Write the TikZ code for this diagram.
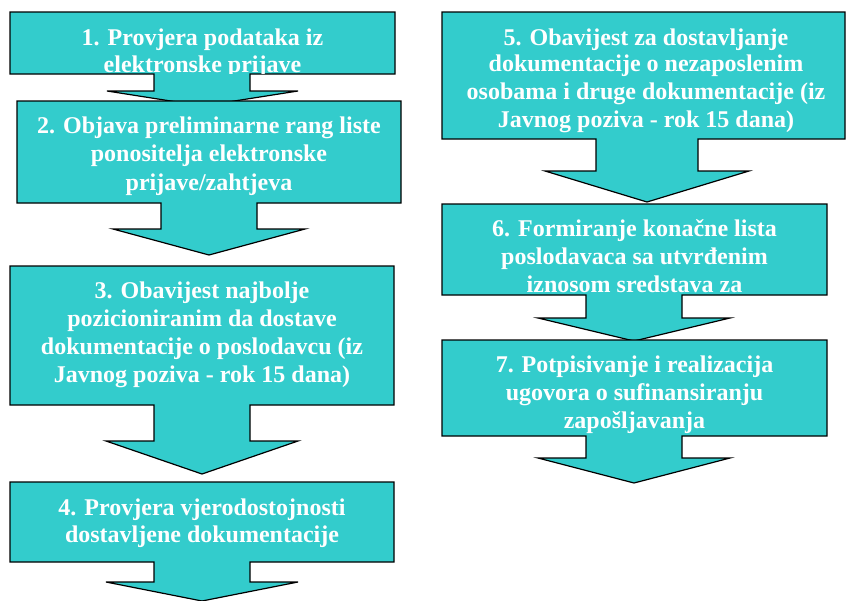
\documentclass[tikz,border=0pt]{standalone}
\usepackage{fontspec}
\setmainfont{Liberation Serif}
\definecolor{teal1}{HTML}{33CCCC}
\tikzset{
  callout/.style={fill=teal1, draw=black, line width=1.2pt, line join=miter},
  lbl/.style={anchor=base, inner sep=0pt, text=white, font=\fontsize{24}{28}\selectfont\bfseries}
}
\begin{document}
\begin{tikzpicture}[x=1pt,y=-1pt]
\useasboundingbox (0,0) rectangle (846,600);
\clip (0,0) rectangle (846,600);
% ---- 1
\draw[callout] (10,12) -- (395,12) -- (395,74) -- (250,74) -- (250,91) -- (298,91) -- (202.5,106) -- (107,91) -- (154,91) -- (154,74) -- (10,74) -- cycle;
\begin{scope}
\clip (10,12) rectangle (395,73.4);
\node[lbl] (t1a) at (202.5,45) {1. Provjera podataka iz};
\node[lbl] (t1b) at (202.5,72) {elektronske prijave};
\end{scope}
% ---- 2
\draw[callout] (17,101) -- (401,101) -- (401,203) -- (257,203) -- (257,229) -- (305,229) -- (209,255) -- (113,229) -- (161,229) -- (161,203) -- (17,203) -- cycle;
\node[lbl] (t2a) at (209,133) {2. Objava preliminarne rang liste};
\node[lbl] (t2b) at (209,161.5) {ponositelja elektronske};
\node[lbl] (t2c) at (209,190) {prijave/zahtjeva};
% ---- 3
\draw[callout] (10,266) -- (394,266) -- (394,405) -- (250,405) -- (250,441) -- (298,441) -- (202,474) -- (106,441) -- (154,441) -- (154,405) -- (10,405) -- cycle;
\node[lbl] (t3a) at (202,298.5) {3. Obavijest najbolje};
\node[lbl] (t3b) at (202,326.5) {pozicioniranim da dostave};
\node[lbl] (t3c) at (202,354.3) {dokumentacije o poslodavcu (iz};
\node[lbl] (t3d) at (202,382) {Javnog poziva - rok 15 dana)};
% ---- 4
\draw[callout] (10,482) -- (394,482) -- (394,562) -- (250,562) -- (250,582) -- (298,582) -- (202,601) -- (106,582) -- (154,582) -- (154,562) -- (10,562) -- cycle;
\node[lbl] (t4a) at (202,515) {4. Provjera vjerodostojnosti};
\node[lbl] (t4b) at (202,542.7) {dostavljene dokumentacije};
% ---- 5
\draw[callout] (442,12) -- (845,12) -- (845,139) -- (698,139) -- (698,171) -- (749,171) -- (647,202) -- (545,171) -- (596,171) -- (596,139) -- (442,139) -- cycle;
\node[lbl] (t5a) at (646,45) {5. Obavijest za dostavljanje};
\node[lbl] (t5b) at (646,71.7) {dokumentacije o nezaposlenim};
\node[lbl] (t5c) at (646,99.4) {osobama i druge dokumentacije (iz};
\node[lbl] (t5d) at (646,127.5) {Javnog poziva - rok 15 dana)};
% ---- 6
\draw[callout] (442,204) -- (827,204) -- (827,295) -- (682,295) -- (682,318) -- (730,318) -- (634,341) -- (538,318) -- (586,318) -- (586,295) -- (442,295) -- cycle;
\begin{scope}
\clip (442,204) rectangle (827,294.4);
\node[lbl] (t6a) at (634.5,236.8) {6. Formiranje konačne lista};
\node[lbl] (t6b) at (634.5,264.8) {poslodavaca sa utvrđenim};
\node[lbl] (t6c) at (634.5,292) {iznosom sredstava za};
\end{scope}
% ---- 7
\draw[callout] (442,340) -- (827,340) -- (827,436) -- (682,436) -- (682,458) -- (730,458) -- (634,483) -- (538,458) -- (586,458) -- (586,436) -- (442,436) -- cycle;
\node[lbl] (t7a) at (634.5,372.6) {7. Potpisivanje i realizacija};
\node[lbl] (t7b) at (634.5,400.6) {ugovora o sufinansiranju};
\node[lbl] (t7c) at (634.5,428.3) {zapošljavanja};
\end{tikzpicture}
\end{document}
